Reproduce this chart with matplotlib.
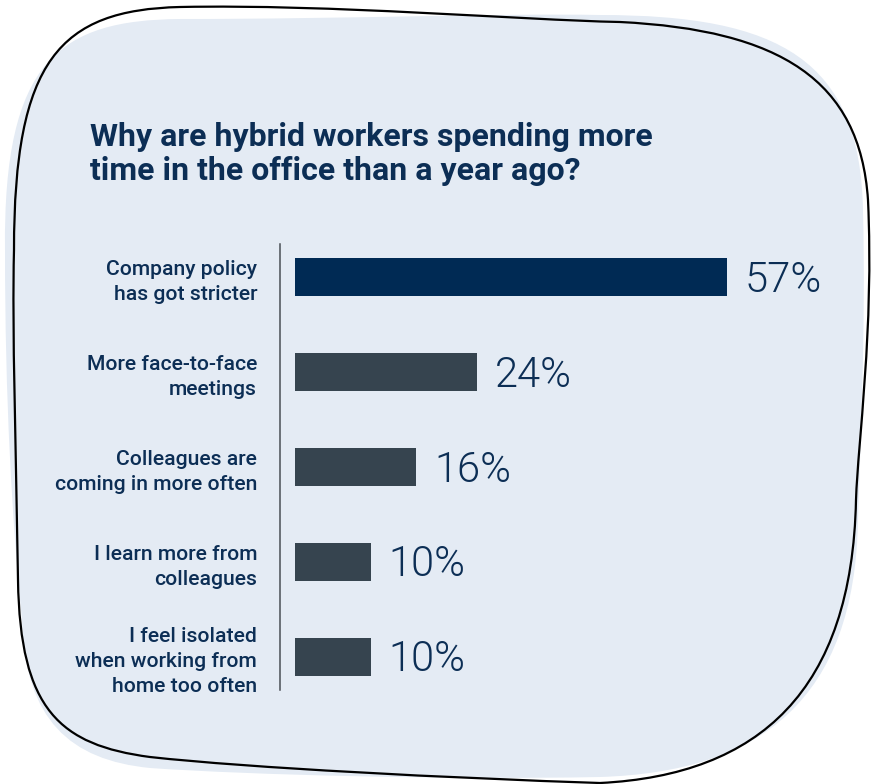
import matplotlib
matplotlib.use("Agg")
import matplotlib.pyplot as plt
from matplotlib.path import Path
from matplotlib.patches import PathPatch

# ---- data ----
categories = [
    "Company policy\nhas got stricter",
    "More face-to-face\nmeetings",
    "Colleagues are\ncoming in more often",
    "I learn more from\ncolleagues",
    "I feel isolated\nwhen working from\nhome too often",
]
shares = [57, 24, 16, 10, 10]
value_labels = ["57%", "24%", "16%", "10%", "10%"]
title = "Why are hybrid workers spending more\ntime in the office than a year ago?"

# ---- style ----
NAVY = "#002a54"
SLATE = "#36444f"
TEXT = "#0c2e55"
CARD = "#e4ebf4"
W, H = 872, 784

plt.rcParams["font.family"] = ["Roboto", "DejaVu Sans"]

fig = plt.figure(figsize=(W / 100, H / 100), dpi=100, facecolor="white")

# hand-drawn card behind the chart, laid out in pixel space
bg = fig.add_axes([0, 0, 1, 1], zorder=0)
bg.set_xlim(0, W)
bg.set_ylim(H, 0)
bg.axis("off")


def blob(start, curves):
    verts = [start]
    codes = [Path.MOVETO]
    for c1, c2, end in curves:
        verts += [c1, c2, end]
        codes += [Path.CURVE4] * 3
    verts.append(start)
    codes.append(Path.CLOSEPOLY)
    return Path(verts, codes)


fill_path = blob((5, 250), [
    ((3, 60), (60, 20), (180, 19)),
    ((350, 19), (500, 13), (600, 15)),
    ((780, 15), (860, 60), (863, 210)),
    ((866, 330), (860, 450), (858, 520)),
    ((855, 700), (760, 772), (600, 777)),
    ((450, 780), (250, 775), (150, 768)),
    ((70, 760), (25, 720), (22, 620)),
    ((12, 520), (5, 400), (5, 250)),
])
outline_path = blob((14, 250), [
    ((14, 60), (60, 10), (180, 7)),
    ((330, 4), (520, 20), (620, 22)),
    ((780, 30), (860, 80), (868, 200)),
    ((874, 330), (858, 440), (856, 500)),
    ((852, 690), (760, 775), (600, 783)),
    ((450, 778), (250, 768), (150, 757)),
    ((60, 745), (20, 710), (18, 580)),
    ((16, 450), (12, 330), (14, 250)),
])
bg.add_patch(PathPatch(fill_path, facecolor=CARD, edgecolor="none"))
bg.add_patch(PathPatch(outline_path, facecolor="none", edgecolor="black", lw=1.6))

# title
fig.text(90 / W, 1 - 180 / H, title, ha="left", va="baseline", fontsize=23,
         fontweight="bold", color=TEXT, linespacing=1.15)

# bar chart
ax = fig.add_axes([295 / W, 1 - 690 / H, 568 / W, 446 / H], zorder=1)
ax.patch.set_alpha(0)
ypos = list(range(len(categories)))
colors = [NAVY] + [SLATE] * (len(categories) - 1)
ax.barh(ypos, shares, height=0.395, color=colors)
ax.set_xlim(0, 75)
ax.set_ylim(4.35, -0.35)

for s in ["top", "right", "bottom"]:
    ax.spines[s].set_visible(False)
ax.spines["left"].set_position(("outward", 10.8))
ax.spines["left"].set_color("#4a4f55")
ax.spines["left"].set_linewidth(1.1)
ax.set_xticks([])
ax.set_yticks(ypos)
ax.set_yticklabels(categories, fontsize=15.2, fontweight="medium", color=TEXT,
                   linespacing=1.38, ha="right")
ax.tick_params(axis="y", length=0, pad=16.5)

for y, v, lab in zip(ypos, shares, value_labels):
    ax.annotate(lab, (v, y), xytext=(13, -10.5), textcoords="offset points",
                ha="left", va="baseline", fontsize=30, fontweight=300,
                color=TEXT)

fig.savefig("out.png", dpi=100, facecolor="white")
